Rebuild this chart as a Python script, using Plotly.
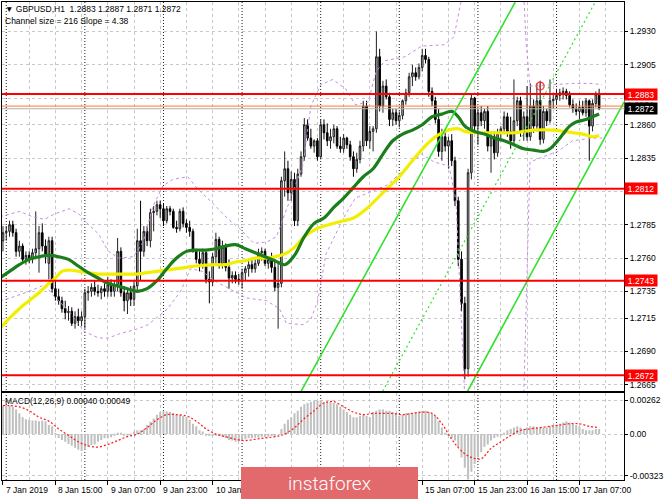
import plotly.graph_objects as go

# ---------------- data ----------------
bars = list(range(183))  # H1 bars, bar 0 = 7 Jan 23:00

opens = [1.2773, 1.2779, 1.2780, 1.2785, 1.2779, 1.2765, 1.2769, 1.2759, 1.2762, 1.2759,
         1.2764, 1.2767, 1.2779, 1.2769, 1.2756, 1.2773, 1.2737, 1.2731, 1.2728, 1.2722,
         1.2719, 1.2720, 1.2711, 1.2716, 1.2713, 1.2716, 1.2734, 1.2735, 1.2738, 1.2735,
         1.2734, 1.2737, 1.2735, 1.2740, 1.2735, 1.2740, 1.2765, 1.2734, 1.2728, 1.2734,
         1.2729, 1.2739, 1.2773, 1.2765, 1.2780, 1.2773, 1.2794, 1.2795, 1.2800, 1.2797,
         1.2788, 1.2797, 1.2795, 1.2783, 1.2782, 1.2795, 1.2786, 1.2783, 1.2780, 1.2765,
         1.2759, 1.2756, 1.2764, 1.2744, 1.2742, 1.2761, 1.2774, 1.2756, 1.2768, 1.2753,
         1.2745, 1.2747, 1.2744, 1.2743, 1.2749, 1.2752, 1.2755, 1.2752, 1.2756, 1.2764,
         1.2765, 1.2756, 1.2759, 1.2753, 1.2738, 1.2741, 1.2818, 1.2827, 1.2809, 1.2819,
         1.2788, 1.2823, 1.2836, 1.2860, 1.2850, 1.2844, 1.2848, 1.2836, 1.2860, 1.2854,
         1.2848, 1.2851, 1.2857, 1.2844, 1.2842, 1.2850, 1.2845, 1.2836, 1.2827, 1.2834,
         1.2844, 1.2874, 1.2848, 1.2855, 1.2857, 1.2911, 1.2874, 1.2889, 1.2881, 1.2864,
         1.2869, 1.2863, 1.2867, 1.2878, 1.2884, 1.2896, 1.2899, 1.2896, 1.2903, 1.2912,
         1.2909, 1.2885, 1.2878, 1.2864, 1.2840, 1.2851, 1.2844, 1.2848, 1.2833, 1.2803,
         1.2759, 1.2726, 1.2677, 1.2824, 1.2880, 1.2859, 1.2869, 1.2863, 1.2870, 1.2844,
         1.2851, 1.2839, 1.2854, 1.2857, 1.2866, 1.2855, 1.2848, 1.2863, 1.2878, 1.2855,
         1.2866, 1.2851, 1.2874, 1.2859, 1.2878, 1.2849, 1.2870, 1.2863, 1.2878, 1.2879,
         1.2882, 1.2884, 1.2885, 1.2882, 1.2875, 1.2872, 1.2870, 1.2873, 1.2869, 1.2878,
         1.2859, 1.2876, 1.2883]

highs = [1.2784, 1.2784, 1.2788, 1.2788, 1.2782, 1.2773, 1.2771, 1.2765, 1.2765, 1.2767,
         1.2795, 1.2784, 1.2786, 1.2774, 1.2776, 1.2776, 1.2743, 1.2737, 1.2731, 1.2728,
         1.2724, 1.2723, 1.2720, 1.2722, 1.2720, 1.2737, 1.2739, 1.2741, 1.2743, 1.2740,
         1.2739, 1.2741, 1.2746, 1.2744, 1.2743, 1.2775, 1.2768, 1.2739, 1.2737, 1.2739,
         1.2743, 1.2782, 1.2803, 1.2784, 1.2784, 1.2797, 1.2799, 1.2803, 1.2803, 1.2801,
         1.2799, 1.2799, 1.2797, 1.2788, 1.2797, 1.2798, 1.2789, 1.2788, 1.2782, 1.2767,
         1.2765, 1.2767, 1.2765, 1.2750, 1.2764, 1.2779, 1.2776, 1.2773, 1.2771, 1.2759,
         1.2750, 1.2750, 1.2748, 1.2752, 1.2754, 1.2758, 1.2759, 1.2759, 1.2767, 1.2768,
         1.2767, 1.2761, 1.2764, 1.2759, 1.2756, 1.2821, 1.2840, 1.2833, 1.2825, 1.2824,
         1.2827, 1.2840, 1.2865, 1.2864, 1.2857, 1.2849, 1.2850, 1.2864, 1.2864, 1.2861,
         1.2857, 1.2860, 1.2859, 1.2851, 1.2853, 1.2851, 1.2848, 1.2840, 1.2839, 1.2848,
         1.2878, 1.2878, 1.2859, 1.2859, 1.2930, 1.2917, 1.2893, 1.2894, 1.2884, 1.2872,
         1.2872, 1.2870, 1.2879, 1.2887, 1.2899, 1.2905, 1.2903, 1.2906, 1.2917, 1.2917,
         1.2911, 1.2888, 1.2881, 1.2872, 1.2857, 1.2855, 1.2851, 1.2853, 1.2836, 1.2806,
         1.2765, 1.2731, 1.2827, 1.2883, 1.2881, 1.2872, 1.2874, 1.2872, 1.2874, 1.2855,
         1.2855, 1.2857, 1.2859, 1.2870, 1.2869, 1.2866, 1.2894, 1.2881, 1.2881, 1.2870,
         1.2889, 1.2891, 1.2879, 1.2891, 1.2893, 1.2874, 1.2872, 1.2894, 1.2884, 1.2887,
         1.2887, 1.2888, 1.2887, 1.2885, 1.2879, 1.2876, 1.2878, 1.2878, 1.2880, 1.2879,
         1.2879, 1.2885, 1.2887]

lows = [1.2765, 1.2773, 1.2776, 1.2776, 1.2761, 1.2761, 1.2756, 1.2755, 1.2756, 1.2756,
        1.2759, 1.2749, 1.2765, 1.2756, 1.2744, 1.2734, 1.2728, 1.2725, 1.2719, 1.2714,
        1.2713, 1.2709, 1.2707, 1.2709, 1.2709, 1.2707, 1.2728, 1.2731, 1.2732, 1.2731,
        1.2729, 1.2731, 1.2731, 1.2731, 1.2731, 1.2735, 1.2731, 1.2720, 1.2718, 1.2724,
        1.2724, 1.2734, 1.2743, 1.2761, 1.2769, 1.2768, 1.2780, 1.2792, 1.2790, 1.2784,
        1.2786, 1.2792, 1.2782, 1.2779, 1.2780, 1.2783, 1.2779, 1.2776, 1.2764, 1.2756,
        1.2750, 1.2752, 1.2741, 1.2726, 1.2739, 1.2756, 1.2752, 1.2752, 1.2750, 1.2737,
        1.2741, 1.2741, 1.2740, 1.2737, 1.2743, 1.2746, 1.2749, 1.2749, 1.2754, 1.2758,
        1.2754, 1.2752, 1.2749, 1.2735, 1.2707, 1.2738, 1.2806, 1.2803, 1.2803, 1.2784,
        1.2784, 1.2821, 1.2833, 1.2848, 1.2842, 1.2839, 1.2833, 1.2834, 1.2849, 1.2844,
        1.2842, 1.2846, 1.2842, 1.2839, 1.2839, 1.2842, 1.2833, 1.2821, 1.2824, 1.2831,
        1.2840, 1.2844, 1.2842, 1.2840, 1.2854, 1.2870, 1.2869, 1.2879, 1.2859, 1.2859,
        1.2860, 1.2858, 1.2864, 1.2875, 1.2881, 1.2889, 1.2893, 1.2894, 1.2900, 1.2906,
        1.2881, 1.2874, 1.2861, 1.2836, 1.2833, 1.2840, 1.2827, 1.2829, 1.2799, 1.2754,
        1.2720, 1.2669, 1.2671, 1.2819, 1.2855, 1.2845, 1.2859, 1.2857, 1.2840, 1.2824,
        1.2834, 1.2836, 1.2848, 1.2854, 1.2851, 1.2842, 1.2844, 1.2859, 1.2851, 1.2848,
        1.2848, 1.2848, 1.2854, 1.2855, 1.2845, 1.2846, 1.2859, 1.2861, 1.2872, 1.2875,
        1.2878, 1.2879, 1.2879, 1.2873, 1.2869, 1.2867, 1.2864, 1.2867, 1.2866, 1.2833,
        1.2855, 1.2873, 1.2871]

closes = [1.2779, 1.2780, 1.2785, 1.2779, 1.2765, 1.2769, 1.2759, 1.2762, 1.2759, 1.2764,
          1.2767, 1.2779, 1.2769, 1.2761, 1.2773, 1.2737, 1.2731, 1.2728, 1.2722, 1.2719,
          1.2720, 1.2711, 1.2716, 1.2713, 1.2716, 1.2734, 1.2735, 1.2738, 1.2735, 1.2734,
          1.2737, 1.2735, 1.2740, 1.2735, 1.2740, 1.2765, 1.2734, 1.2728, 1.2734, 1.2729,
          1.2739, 1.2773, 1.2765, 1.2780, 1.2773, 1.2794, 1.2795, 1.2800, 1.2797, 1.2788,
          1.2797, 1.2795, 1.2783, 1.2782, 1.2795, 1.2786, 1.2783, 1.2780, 1.2765, 1.2759,
          1.2756, 1.2764, 1.2744, 1.2742, 1.2761, 1.2774, 1.2756, 1.2768, 1.2753, 1.2745,
          1.2747, 1.2744, 1.2743, 1.2749, 1.2752, 1.2755, 1.2752, 1.2756, 1.2764, 1.2765,
          1.2756, 1.2759, 1.2753, 1.2738, 1.2741, 1.2818, 1.2827, 1.2809, 1.2819, 1.2788,
          1.2823, 1.2836, 1.2860, 1.2850, 1.2844, 1.2848, 1.2836, 1.2860, 1.2854, 1.2848,
          1.2851, 1.2857, 1.2844, 1.2842, 1.2850, 1.2845, 1.2836, 1.2827, 1.2834, 1.2844,
          1.2874, 1.2848, 1.2855, 1.2857, 1.2911, 1.2874, 1.2889, 1.2881, 1.2864, 1.2869,
          1.2863, 1.2867, 1.2878, 1.2884, 1.2896, 1.2899, 1.2896, 1.2903, 1.2912, 1.2909,
          1.2885, 1.2878, 1.2864, 1.2840, 1.2851, 1.2844, 1.2848, 1.2833, 1.2803, 1.2759,
          1.2726, 1.2677, 1.2824, 1.2880, 1.2859, 1.2869, 1.2863, 1.2870, 1.2844, 1.2851,
          1.2839, 1.2854, 1.2857, 1.2866, 1.2855, 1.2848, 1.2863, 1.2878, 1.2855, 1.2866,
          1.2851, 1.2874, 1.2859, 1.2878, 1.2849, 1.2870, 1.2863, 1.2878, 1.2879, 1.2882,
          1.2884, 1.2885, 1.2882, 1.2875, 1.2872, 1.2870, 1.2873, 1.2869, 1.2878, 1.2859,
          1.2876, 1.2883, 1.2872]

# moving averages (bar position, price)
ma_green_bars = [-1, 2, 5, 8, 11, 14, 17, 20, 23, 26, 29, 32, 35, 38, 41, 44, 47, 50, 53, 56,
                 59, 62, 65, 68, 71, 74, 77, 80, 83, 86, 89, 92, 95, 98, 101, 104, 107, 110,
                 113, 116, 119, 122, 125, 128, 131, 134, 137, 139, 141, 144, 147, 150, 153,
                 156, 159, 162, 165, 167, 169, 171, 173, 175, 178, 182]
ma_green = [1.2745, 1.2750, 1.2755, 1.2759, 1.2761, 1.2762, 1.2761, 1.2759, 1.2754, 1.2749,
            1.2745, 1.2741, 1.2739, 1.2737, 1.2735, 1.2737, 1.2743, 1.2752, 1.2760, 1.2765,
            1.2766, 1.2766, 1.2767, 1.2769, 1.2770, 1.2767, 1.2764, 1.2761, 1.2758, 1.2755,
            1.2762, 1.2776, 1.2786, 1.2790, 1.2798, 1.2805, 1.2813, 1.2821, 1.2827, 1.2838,
            1.2848, 1.2853, 1.2856, 1.2860, 1.2866, 1.2868, 1.2870, 1.2866, 1.2859, 1.2855,
            1.2853, 1.2850, 1.2848, 1.2845, 1.2842, 1.2841, 1.2840, 1.2842, 1.2847, 1.2853,
            1.2859, 1.2862, 1.2864, 1.2868]

ma_yellow_bars = [-1, 2, 5, 8, 11, 14, 16, 18, 20, 23, 26, 29, 35, 41, 44, 47, 50, 53, 56, 59,
                  65, 68, 71, 74, 77, 80, 83, 86, 89, 92, 95, 98, 104, 107, 111, 116, 121,
                  126, 131, 136, 139, 141, 144, 150, 156, 162, 168, 174, 177, 180, 182]
ma_yellow = [1.2707, 1.2715, 1.2722, 1.2728, 1.2734, 1.2741, 1.2745, 1.2750, 1.2751, 1.2750,
             1.2749, 1.2748, 1.2748, 1.2748, 1.2749, 1.2750, 1.2751, 1.2752, 1.2753, 1.2754,
             1.2755, 1.2755, 1.2757, 1.2758, 1.2760, 1.2760, 1.2761, 1.2763, 1.2768, 1.2776,
             1.2781, 1.2784, 1.2788, 1.2790, 1.2797, 1.2809, 1.2821, 1.2836, 1.2849, 1.2856,
             1.2857, 1.2855, 1.2854, 1.2854, 1.2854, 1.2856, 1.2856, 1.2854, 1.2853, 1.2851,
             1.2852]

# Bollinger-style bands (purple dashed)
band_up_bars = [-0.9, 2.1, 5.1, 9.0, 12.7, 15.7, 20.2, 23.2, 26.2, 29.2, 32.2, 35.3, 39.8,
                42.8, 45.8, 48.8, 51.8, 56.4, 59.4, 64.5, 68.4, 72.3, 76.6, 80.5, 83.5, 85.6,
                88.6, 91.6, 94.0, 97.0, 100.7, 104.6, 107.6, 111.5, 113.9, 116.6, 122.7,
                127.8, 134.7, 137.7, 139.8, 140.7, 158.8, 159.7, 160.9, 167.9, 173.9, 179.9,
                182.9]
band_up = [1.2791, 1.2793, 1.2795, 1.2791, 1.2789, 1.2793, 1.2797, 1.2793, 1.2785, 1.2778,
           1.2765, 1.2760, 1.2761, 1.2772, 1.2799, 1.2814, 1.2819, 1.2821, 1.2812, 1.2800,
           1.2790, 1.2782, 1.2771, 1.2772, 1.2776, 1.2790, 1.2810, 1.2830, 1.2874, 1.2890,
           1.2894, 1.2887, 1.2875, 1.2877, 1.2900, 1.2908, 1.2911, 1.2919, 1.2920, 1.2926,
           1.2952, 1.2967, 1.2967, 1.2922, 1.2889, 1.2890, 1.2891, 1.2891, 1.2890]

band_lo_bars = [-0.9, 2.1, 8.1, 12.7, 15.7, 20.2, 24.7, 29.2, 32.2, 35.3, 41.3, 44.3, 50.3,
                54.2, 57.3, 60.9, 64.5, 70.5, 74.4, 80.5, 84.4, 86.5, 91.6, 94.0, 96.1, 98.6,
                104.6, 107.6, 112.7, 117.5, 122.7, 127.8, 131.7, 136.2, 138.3, 139.8, 141.3,
                158.8, 159.7, 160.9, 164.9, 169.4, 173.9, 179.9, 182.9]
band_lo = [1.2728, 1.2730, 1.2735, 1.2740, 1.2731, 1.2720, 1.2705, 1.2700, 1.2700, 1.2703,
           1.2707, 1.2710, 1.2722, 1.2735, 1.2752, 1.2750, 1.2743, 1.2735, 1.2730, 1.2728,
           1.2722, 1.2711, 1.2710, 1.2714, 1.2728, 1.2763, 1.2793, 1.2805, 1.2810, 1.2815,
           1.2827, 1.2838, 1.2832, 1.2829, 1.2803, 1.2728, 1.2638, 1.2638, 1.2728, 1.2832,
           1.2836, 1.2840, 1.2848, 1.2850, 1.2850]

# regression channel (Channel size = 216, Slope = 4.38): anchor points (bar, price)
chan_upper_bars = [91.0, 156.4]
chan_upper = [1.2660, 1.2952]
chan_mid_bars = [115.9, 180.8]
chan_mid = [1.2660, 1.2952]
chan_lower_bars = [141.8, 189.6]
chan_lower = [1.2660, 1.2877]

levels = [1.2883, 1.2812, 1.2743, 1.2672]
ask_price = 1.2874
bid_price = 1.2872

event_bar = [164]
event_price = [1.2889]

macd_hist = [0.0022, 0.0022, 0.0022, 0.0021, 0.0019, 0.0016, 0.0013, 0.00115, 0.0011, 0.00105,
             0.00105, 0.0010, 0.00105, 0.0010, 0.0007, 0.0006, 0.0001, -0.0003, -0.00045, -0.0006,
             -0.00077, -0.0009, -0.00105, -0.0012, -0.0013, -0.0012, -0.0010, -0.00085, -0.0008, -0.0006,
             -0.00045, -0.00033, -0.00033, -0.00025, -0.0001, 0.0001, 0.0001, -0.0001, -0.0001, -0.00005,
             0.0002, 0.0003, 0.0003, 0.0004, 0.0007, 0.00095, 0.0012, 0.0015, 0.0017, 0.0018,
             0.00175, 0.0017, 0.0016, 0.0015, 0.0015, 0.0014, 0.0013, 0.0011, 0.0008, 0.0006,
             0.0003, 0.0002, -0.0001, -0.00015, -0.00015, -0.0001, -0.00015, -0.0002, -0.00033, -0.00045,
             -0.0005, -0.0006, -0.00055, -0.00045, -0.0004, -0.00033, -0.0003, -0.00028, -0.00028, -0.0002,
             -0.0002, -0.0002, -0.00015, -0.0002, 0.0000, 0.0004, 0.0008, 0.0011, 0.0013, 0.0016,
             0.0018, 0.0021, 0.0023, 0.0024, 0.0025, 0.0026, 0.0026, 0.0026, 0.0025, 0.0025,
             0.0025, 0.0024, 0.0023, 0.0021, 0.0019, 0.0017, 0.0015, 0.0013, 0.0013, 0.0014,
             0.0015, 0.0014, 0.0013, 0.0017, 0.0018, 0.0019, 0.0019, 0.0018, 0.0018, 0.0017,
             0.0016, 0.0014, 0.0015, 0.0016, 0.0016, 0.0016, 0.0017, 0.0017, 0.0018, 0.0018,
             0.0017, 0.0016, 0.0014, 0.0010, 0.0005, 0.0001, -0.0001, -0.0003, -0.0005, -0.0010,
             -0.0018, -0.0026, -0.0035, -0.0029, -0.0023, -0.0018, -0.0014, -0.0010, -0.0008, -0.0005,
             -0.0003, -0.0002, -0.0001, 0.0001, 0.0003, 0.0004, 0.0005, 0.0006, 0.0005, 0.0004,
             0.0005, 0.0006, 0.0006, 0.0005, 0.0005, 0.0005, 0.0005, 0.0006, 0.0006, 0.0007,
             0.0008, 0.0009, 0.0010, 0.0009, 0.0008, 0.0007, 0.0006, 0.0004, 0.0003, 0.0003,
             0.0003, 0.0004, 0.0004]

signal_bars = [0, 2, 5, 8, 11, 14, 17, 20, 23, 26, 29, 32, 35, 38, 41, 44, 47, 50, 53, 56, 59,
               62, 65, 68, 71, 74, 77, 80, 83, 86, 89, 92, 95, 98, 101, 104, 107, 110, 113, 116,
               119, 122, 125, 128, 131, 134, 137, 140, 143, 146, 149, 152, 155, 158, 161, 164,
               167, 170, 173, 176, 179, 182]
signal = [0.0022, 0.0022, 0.0021, 0.0018, 0.0013, 0.0010, 0.0004, -0.0001, -0.0006, -0.0009,
          -0.0010, -0.0008, -0.0005, -0.0002, 0.0000, 0.0005, 0.0011, 0.0015, 0.0015, 0.0014,
          0.0010, 0.0004, 0.0000, -0.0002, -0.0004, -0.0005, -0.0004, -0.0003, -0.0002, 0.0000,
          0.0005, 0.0012, 0.0018, 0.0024, 0.0025, 0.0021, 0.0017, 0.0015, 0.0016, 0.0016,
          0.0016, 0.0015, 0.0016, 0.0017, 0.0016, 0.0008, -0.0004, -0.0013, -0.0018, -0.0019,
          -0.0011, -0.0006, -0.0001, 0.0003, 0.0004, 0.0005, 0.0006, 0.0007, 0.0008, 0.0008,
          0.0006, 0.0005]

# price grid values; the labels of 1.2810 and 1.2880 sit under the level labels
price_ticks = [1.2665, 1.2690, 1.2715, 1.2735, 1.2760, 1.2785, 1.2810, 1.2835, 1.2860,
               1.2880, 1.2905, 1.2930]
price_tick_text = ["1.2665", "1.2690", "1.2715", "1.2735", "1.2760", "1.2785", "",
                   "1.2835", "1.2860", "", "1.2905", "1.2930"]
macd_ticks = [0.00262, 0.0, -0.00323]
macd_tick_text = ["0.00262", "0.00", "-0.00323"]

time_tick_bars = [0, 16, 32, 48, 64, 80, 96, 112, 128, 144, 160, 176]
time_label_bars = [0, 16, 32, 48, 64, 128, 144, 160, 176]
time_label_text = ["7 Jan 2019", "8 Jan 15:00", "9 Jan 07:00", "9 Jan 23:00", "10 Jan 15:00",
                   "15 Jan 07:00", "15 Jan 23:00", "16 Jan 15:00", "17 Jan 07:00"]
day_sep_bars = [1, 25, 49, 73, 97, 121, 145, 169]

# ---------------- figure ----------------
FONT = "Liberation Sans, Arial, sans-serif"
FS = 8.5
W, H = 665, 499
ML, MR, MT, MB = 2, 33, 1, 19
PH = H - MT - MB
main_dom = [(480 - 391) / PH, 1.0]
macd_dom = [0.0, (480 - 392.5) / PH]
xr = [-0.3, 189.6]

fig = go.Figure()

purple = "#c58be6"
fig.add_trace(go.Scatter(x=band_up_bars, y=band_up, mode="lines", xaxis="x", yaxis="y",
                         line=dict(color=purple, width=1, dash="3px,3px"), hoverinfo="skip"))
fig.add_trace(go.Scatter(x=band_lo_bars, y=band_lo, mode="lines", xaxis="x", yaxis="y",
                         line=dict(color=purple, width=1, dash="3px,3px"), hoverinfo="skip"))

fig.add_trace(go.Scatter(x=ma_yellow_bars, y=ma_yellow, mode="lines", line_shape="spline",
                         xaxis="x", yaxis="y", line=dict(color="#f2ee00", width=3.2)))
fig.add_trace(go.Scatter(x=ma_green_bars, y=ma_green, mode="lines", line_shape="spline",
                         xaxis="x", yaxis="y", line=dict(color="#1b7d1b", width=3.2)))

lime = "#2fe02f"
fig.add_trace(go.Scatter(x=chan_upper_bars, y=chan_upper, mode="lines", xaxis="x", yaxis="y",
                         line=dict(color=lime, width=1.6)))
fig.add_trace(go.Scatter(x=chan_mid_bars, y=chan_mid, mode="lines", xaxis="x", yaxis="y",
                         line=dict(color=lime, width=1.2, dash="2px,3px")))
fig.add_trace(go.Scatter(x=chan_lower_bars, y=chan_lower, mode="lines", xaxis="x", yaxis="y",
                         line=dict(color=lime, width=1.6)))

fig.add_trace(go.Candlestick(
    x=bars, open=opens, high=highs, low=lows, close=closes, xaxis="x", yaxis="y",
    increasing=dict(line=dict(color="#202020", width=1), fillcolor="#bdbdbd"),
    decreasing=dict(line=dict(color="#000000", width=1), fillcolor="#000000"),
    whiskerwidth=0))

fig.add_trace(go.Scatter(x=event_bar, y=event_price, mode="markers", xaxis="x", yaxis="y",
                         marker=dict(symbol="circle-open-dot", size=8, color="#ff3030",
                                     line=dict(width=1.2))))

fig.add_trace(go.Bar(x=bars, y=macd_hist, xaxis="x2", yaxis="y2", width=0.62,
                     marker=dict(color="#c0c0c0", line=dict(width=0))))
fig.add_trace(go.Scatter(x=signal_bars, y=signal, mode="lines", line_shape="spline",
                         xaxis="x2", yaxis="y2",
                         line=dict(color="#ff1a1a", width=1.2, dash="2px,2px")))

grid = dict(showgrid=True, gridcolor="#c8c8c8", griddash="3px,3px", gridwidth=1)

shapes = []
for b in day_sep_bars:
    shapes.append(dict(type="line", xref="x", yref="paper", x0=b, x1=b, y0=0, y1=1,
                       line=dict(color="#202020", width=1, dash="1px,2px"), layer="below"))
shapes.append(dict(type="line", xref="paper", yref="y", x0=0, x1=1, y0=bid_price, y1=bid_price,
                   line=dict(color="#b0b0b0", width=1)))
shapes.append(dict(type="line", xref="paper", yref="y", x0=0, x1=1, y0=ask_price, y1=ask_price,
                   line=dict(color="#ff7a30", width=1)))
for lv in levels:
    shapes.append(dict(type="line", xref="paper", yref="y", x0=0, x1=1, y0=lv, y1=lv,
                       line=dict(color="#ff0000", width=2)))

ann = []
def ptxt(px, py, text, size=FS, color="black", **kw):
    ann.append(dict(xref="paper", yref="paper", x=(px - ML) / (W - ML - MR),
                    y=(H - MB - py) / PH, text=text, showarrow=False, xanchor="left",
                    yanchor="middle", font=dict(family=FONT, size=size, color=color), **kw))

ptxt(3, 8, "▼ GBPUSD,H1  1.2883 1.2887 1.2871 1.2872")
ptxt(3, 20, "Channel size = 216 Slope = 4.38")
ptxt(3, 401, "MACD(12,26,9) 0.00040 0.00049")

for b, t in zip(time_label_bars, time_label_text):
    ann.append(dict(xref="x2", yref="paper", x=b, y=(H - MB - 490) / PH, text=t,
                    showarrow=False, xanchor="left", yanchor="middle", xshift=1,
                    font=dict(family=FONT, size=FS, color="black")))

# right-side price labels
ann.append(dict(xref="paper", yref="y", x=1, y=ask_price + 0.0001, text="1.2874",
                xanchor="left", yanchor="middle", showarrow=False, bgcolor="white",
                font=dict(family=FONT, size=FS, color="#ff5020"), width=31, borderpad=0))
for lv in levels:
    ann.append(dict(xref="paper", yref="y", x=1, y=lv, text=f"{lv:.4f}", xanchor="left",
                    yanchor="middle", showarrow=False, bgcolor="#ff0000", width=31,
                    borderpad=0.5, font=dict(family=FONT, size=FS, color="white")))
ann.append(dict(xref="paper", yref="y", x=1, y=bid_price, text="1.2872", xanchor="left",
                yanchor="middle", showarrow=False, bgcolor="#000000", width=31, borderpad=0.5,
                font=dict(family=FONT, size=FS, color="white")))

# instaforex logo
ann.append(dict(xref="paper", yref="paper", x=(333.5 - ML) / (W - ML - MR),
                y=(H - MB - 483.5) / PH, text="instaforex", showarrow=False,
                xanchor="center", yanchor="middle", bgcolor="#e26a6d", width=177, height=32,
                borderpad=0, borderwidth=0,
                font=dict(family="Roboto, Open Sans, sans-serif", size=19, color="white",
                          weight=300)))

fig.update_layout(
    width=W, height=H, margin=dict(l=ML, r=MR, t=MT, b=MB),
    paper_bgcolor="white", plot_bgcolor="white", showlegend=False,
    font=dict(family=FONT, size=FS, color="black"),
    xaxis=dict(domain=[0, 1], anchor="y", range=xr, rangeslider=dict(visible=False),
               tickmode="array", tickvals=time_tick_bars, showticklabels=False, ticks="",
               zeroline=False, showline=True, mirror=True, linecolor="black", linewidth=1,
               minor=dict(tick0=0, dtick=8, showgrid=True, gridcolor="#c8c8c8",
                          griddash="3px,3px"), **grid),
    xaxis2=dict(domain=[0, 1], anchor="y2", range=xr, matches="x", tickmode="array",
                tickvals=time_tick_bars, showticklabels=False, ticks="outside", ticklen=4,
                tickcolor="black", zeroline=False, showline=True, mirror=True,
                linecolor="black", linewidth=1,
                minor=dict(tick0=0, dtick=8, showgrid=True, gridcolor="#c8c8c8",
                           griddash="3px,3px"), **grid),
    yaxis=dict(domain=main_dom, anchor="x", side="right", range=[1.26601, 1.29521],
               tickvals=price_ticks, ticktext=price_tick_text,
               ticks="outside", ticklen=3, tickcolor="black", zeroline=False,
               showline=True, mirror=True, linecolor="black", linewidth=1,
               tickfont=dict(family=FONT, size=FS), **grid),
    yaxis2=dict(domain=macd_dom, anchor="x2", side="right", range=[-0.003541, 0.003195],
                tickvals=macd_ticks, ticktext=macd_tick_text, ticks="outside", ticklen=3,
                tickcolor="black", zeroline=False, showline=True, mirror=True,
                linecolor="black", linewidth=1, tickfont=dict(family=FONT, size=FS), **grid),
    bargap=0.3, shapes=shapes, annotations=ann,
)

fig.write_html("out.html", config={"displayModeBar": False},
               post_script="document.body.style.margin='0px';document.body.style.padding='0px';")
